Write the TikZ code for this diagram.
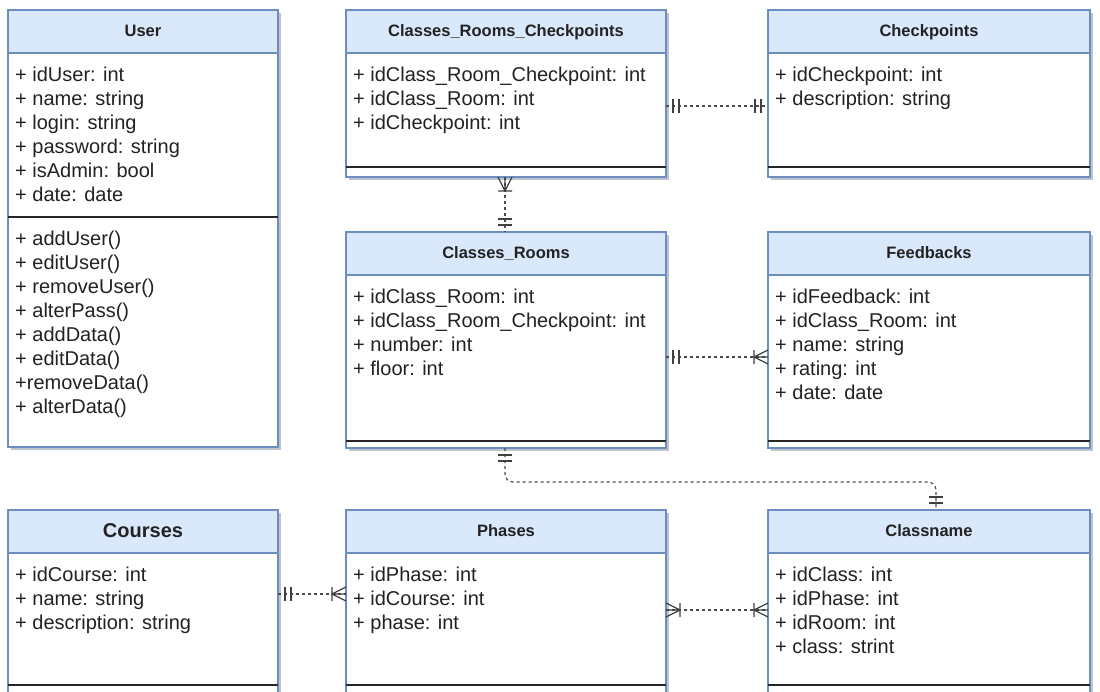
\documentclass[tikz,border=0pt]{standalone}
\usepackage{fontspec}
\setmainfont{Liberation Sans}
\usetikzlibrary{shadows,calc}
\definecolor{bd}{HTML}{6C8EBF}
\definecolor{hd}{HTML}{DAE8FC}
\definecolor{tx}{HTML}{222222}
\tikzset{
 box/.style={draw=bd, line width=1.5pt, fill=white, anchor=north west, inner sep=0pt, outer sep=0pt,
   drop shadow={shadow xshift=3pt, shadow yshift=-3pt, fill=black!40!bd, opacity=0.35}},
 head/.style={draw=bd, line width=1.5pt, fill=hd, anchor=north west, inner sep=0pt, outer sep=0pt,
   minimum height=43pt, text=tx, font=\bfseries\fontsize{16.5}{19}\selectfont, text height=12pt, text depth=3pt},
 bighead/.style={head, font=\bfseries\fontsize{20}{24}\selectfont, text height=14pt, text depth=3pt},
 attrs/.style={anchor=north west, inner sep=0pt, align=left, text=tx, font=\fontsize{20}{24}\selectfont},
 sepline/.style={line width=1.5pt, black!85},
 conn/.style={line width=1.2pt, black!70, dash pattern=on 3pt off 3pt},
 tick/.style={line width=1.3pt, black!75},
}
\newcommand\mandone[2]{\begin{scope}[shift={(#1)},rotate=#2]\draw[tick] (-7,-7)--(-7,7) (-13,-7)--(-13,7);\end{scope}}
\newcommand\onemany[2]{\begin{scope}[shift={(#1)},rotate=#2]\draw[tick] (0,-7)--(-14,0)--(0,7) (-14,0)--(0,0) (-14,-7)--(-14,7);\end{scope}}
\begin{document}
\begin{tikzpicture}[x=1pt,y=-1pt]
\useasboundingbox (0,0) rectangle (1100,691);
\clip (0,0) rectangle (1100,691);

% ---------- boxes ----------
\node[box, minimum width=270pt, minimum height=437pt] (user) at (8,10) {};
\node[head, minimum width=270pt] (userH) at (8,10) {User};
\draw[sepline] (8,217) -- (278,217);
\node[attrs] (userA) at (15,67) {+ idUser: int\\+ name: string\\+ login: string\\+ password: string\\+ isAdmin: bool\\+ date: date};
\node[attrs] (userM) at (15,231) {+ addUser()\\+ editUser()\\+ removeUser()\\+ alterPass()\\+ addData()\\+ editData()\\+removeData()\\+ alterData()};

\node[box, minimum width=320pt, minimum height=167pt] (crc) at (346,10) {};
\node[head, minimum width=320pt] (crcH) at (346,10) {Classes\_Rooms\_Checkpoints};
\draw[sepline] (346,167) -- (666,167);
\node[attrs] (crcA) at (353,67) {+ idClass\_Room\_Checkpoint: int\\+ idClass\_Room: int\\+ idCheckpoint: int};

\node[box, minimum width=322pt, minimum height=167pt] (chk) at (768,10) {};
\node[head, minimum width=322pt] (chkH) at (768,10) {Checkpoints};
\draw[sepline] (768,167) -- (1090,167);
\node[attrs] (chkA) at (775,67) {+ idCheckpoint: int\\+ description: string};

\node[box, minimum width=320pt, minimum height=216pt] (cr) at (346,232) {};
\node[head, minimum width=320pt] (crH) at (346,232) {Classes\_Rooms};
\draw[sepline] (346,441) -- (666,441);
\node[attrs] (crA) at (353,289) {+ idClass\_Room: int\\+ idClass\_Room\_Checkpoint: int\\+ number: int\\+ floor: int};

\node[box, minimum width=322pt, minimum height=216pt] (fb) at (768,232) {};
\node[head, minimum width=322pt] (fbH) at (768,232) {Feedbacks};
\draw[sepline] (768,441) -- (1090,441);
\node[attrs] (fbA) at (775,289) {+ idFeedback: int\\+ idClass\_Room: int\\+ name: string\\+ rating: int\\+ date: date};

\node[box, minimum width=270pt, minimum height=220pt] (crs) at (8,510) {};
\node[bighead, minimum width=270pt] (crsH) at (8,510) {Courses};
\draw[sepline] (8,685) -- (278,685);
\node[attrs] (crsA) at (15,567) {+ idCourse: int\\+ name: string\\+ description: string};

\node[box, minimum width=320pt, minimum height=220pt] (ph) at (346,510) {};
\node[head, minimum width=320pt] (phH) at (346,510) {Phases};
\draw[sepline] (346,685) -- (666,685);
\node[attrs] (phA) at (353,567) {+ idPhase: int\\+ idCourse: int\\+ phase: int};

\node[box, minimum width=322pt, minimum height=220pt] (cn) at (768,510) {};
\node[head, minimum width=322pt] (cnH) at (768,510) {Classname};
\draw[sepline] (768,685) -- (1090,685);
\node[attrs] (cnA) at (775,567) {+ idClass: int\\+ idPhase: int\\+ idRoom: int\\+ class: strint};

% ---------- connectors ----------
\coordinate (c1a) at (crc.east |- 0,106);
\coordinate (c1b) at (chk.west |- 0,106);
\draw[conn] (c1a) -- (c1b);
\mandone{c1a}{180}\mandone{c1b}{0}

\coordinate (c2a) at (crc.south -| 505,0);
\coordinate (c2b) at (cr.north -| 505,0);
\draw[conn] (c2a) -- (c2b);
\onemany{c2a}{90}\mandone{c2b}{-90}

\coordinate (c3a) at (cr.east |- 0,357);
\coordinate (c3b) at (fb.west |- 0,357);
\draw[conn] (c3a) -- (c3b);
\mandone{c3a}{180}\onemany{c3b}{0}

\coordinate (c4a) at (cr.south -| 505,0);
\coordinate (c4b) at (cn.north -| 936,0);
\draw[conn, rounded corners=8pt] (c4a) -- ++(0,34) -| (c4b);
\mandone{c4a}{90}\mandone{c4b}{-90}

\coordinate (c5a) at (crs.east |- 0,594);
\coordinate (c5b) at (ph.west |- 0,594);
\draw[conn] (c5a) -- (c5b);
\mandone{c5a}{180}\onemany{c5b}{0}

\coordinate (c6a) at (ph.east |- 0,610);
\coordinate (c6b) at (cn.west |- 0,610);
\draw[conn] (c6a) -- (c6b);
\onemany{c6a}{180}\onemany{c6b}{0}
\end{tikzpicture}
\end{document}
